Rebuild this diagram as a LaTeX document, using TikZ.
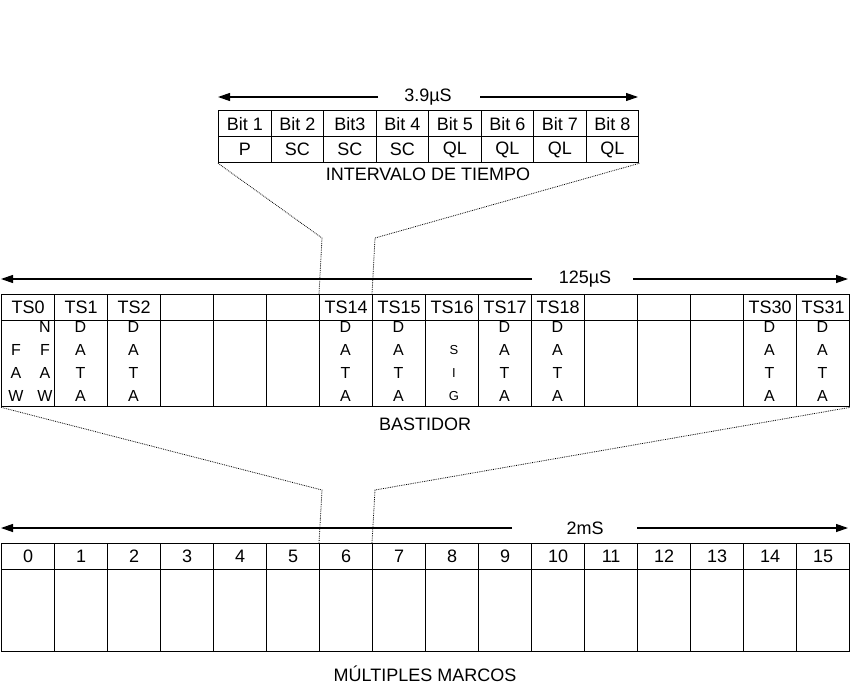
\documentclass[tikz,border=0pt]{standalone}
\usepackage{fontspec}
\setmainfont{Liberation Sans}
\usetikzlibrary{arrows.meta}
\begin{document}
\begin{tikzpicture}[x=1pt,y=-1pt,
  cell/.style={draw,line width=1.3pt,minimum width=#1,minimum height=26,inner sep=0,anchor=north west,font=\fontsize{18}{20}\selectfont},
  body/.style={draw,line width=1.3pt,inner sep=0,anchor=north west},
  lab/.style={font=\fontsize{18}{20}\selectfont,inner sep=1},
  let/.style={font=\fontsize{16}{18}\selectfont,inner sep=0},
  dim/.style={line width=1.2pt,-{Triangle[length=12pt,width=8pt]}},
  zoomln/.style={densely dotted,line width=0.8pt}]
\useasboundingbox (0,0) rectangle (850,690);
% ---------- top: time slot ----------
\foreach \i/\t/\b in {0/Bit 1/P,1/Bit 2/SC,2/Bit3/SC,3/Bit 4/SC,4/Bit 5/QL,5/Bit 6/QL,6/Bit 7/QL,7/Bit 8/QL}{
  \node[cell=52.5] (bh\i) at ({218+52.5*\i},110) {\t};
  \node[cell=52.5] (bb\i) at ({218+52.5*\i},136) {\b};
}
\node[lab] (t39) at (428,97) {3.9µS};
\coordinate (tl) at (218,97); \coordinate (tr) at (638,97);
\draw[dim] ([xshift=-50]t39.center) -- (tl);
\draw[dim] ([xshift=52]t39.center) -- (tr);
\node[lab] (int) at (428,174) {INTERVALO DE TIEMPO};
% ---------- middle: frame ----------
\foreach \i/\t in {0/TS0,1/TS1,2/TS2,3/,4/,5/,6/TS14,7/TS15,8/TS16,9/TS17,10/TS18,11/,12/,13/,14/TS30,15/TS31}{
  \node[cell=53] (fh\i) at ({1+53*\i},294) {\t};
  \node[body,minimum width=53,minimum height=86] (fb\i) at ({1+53*\i},320) {};
}
\node[lab] (t125) at (585,279) {125µS};
\coordinate (ml) at (1,279); \coordinate (mr) at (848,279);
\draw[dim] ([xshift=-53]t125.center) -- (ml);
\draw[dim] ([xshift=48]t125.center) -- (mr);
\foreach \c/\y in {N/327,F/350,A/373,W/396} \node[let] at (45,\y) {\c};
\foreach \c/\y in {F/350,A/373,W/396} \node[let] at (16,\y) {\c};
\foreach \i in {1,2,6,7,9,10,14,15}{
  \foreach \c/\y in {D/327,A/350,T/373,A/396} \node[let] at ({27.5+53*\i},\y) {\c};
}
\foreach \c/\y in {S/350,I/373,G/396} \node[let,font=\fontsize{13}{15}\selectfont] at (454,\y) {\c};
\node[lab] (bast) at (425,424) {BASTIDOR};
% ---------- bottom: multiframe ----------
\foreach \i in {0,...,15}{
  \node[cell=53] (mh\i) at ({1+53*\i},543) {\i};
  \node[body,minimum width=53,minimum height=82] (mb\i) at ({1+53*\i},569) {};
}
\node[lab] (t2) at (585,528) {2mS};
\coordinate (bl) at (1,528); \coordinate (br) at (848,528);
\draw[dim] ([xshift=-73]t2.center) -- (bl);
\draw[dim] ([xshift=52]t2.center) -- (br);
\node[lab] (mm) at (425,674) {MÚLTIPLES MARCOS};
% ---------- zoom lines ----------
\coordinate (z1) at (322,238); \coordinate (z2) at (375,238);
\draw[zoomln] (bb0.south west) -- (z1) -- (fh6.north west);
\draw[zoomln] (bb7.south east) -- (z2) -- (fh7.north west);
\coordinate (z3) at (322,490); \coordinate (z4) at (375,490);
\draw[zoomln] (fb0.south west) -- (z3) -- (mh6.north west);
\draw[zoomln] (fb15.south east) -- (z4) -- (mh7.north west);
\end{tikzpicture}
\end{document}
